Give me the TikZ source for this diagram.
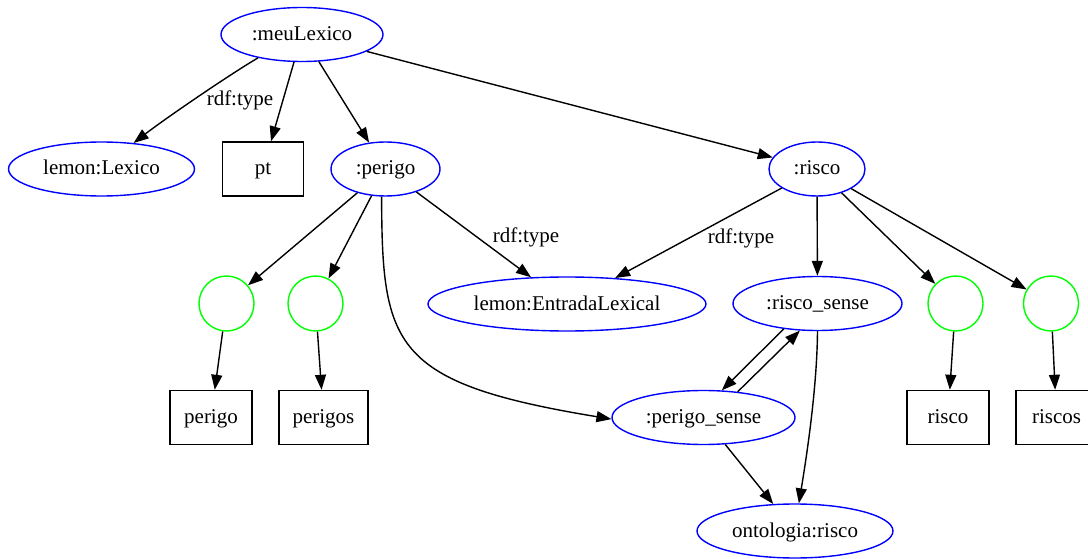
\documentclass[tikz,border=0pt]{standalone}
\usepackage{fontspec}
\setmainfont{Liberation Serif}
\usetikzlibrary{shapes.geometric,arrows.meta}
\begin{document}
\begin{tikzpicture}[x=1pt,y=-1pt,
  every node/.style={font=\fontsize{21}{25}\selectfont},
  txt/.style={text height=15.5pt,text depth=3.5pt},
  res/.style={ellipse,draw=blue,line width=1.4pt,inner sep=0pt,minimum height=54pt,txt},
  lit/.style={rectangle,draw=black,line width=1.4pt,inner sep=0pt,minimum height=54pt,txt},
  blank/.style={circle,draw=green,line width=1.4pt,inner sep=0pt,minimum size=55pt},
  edge/.style={draw,line width=1.4pt,-{Triangle[length=15pt,width=11pt]}},
  lbl/.style={inner sep=0pt}]
\useasboundingbox (0,0) rectangle (1088,559);
\clip (0,0) rectangle (1088,559);

% resources
\node[res,minimum width=162pt] (lex)  at (302,34.5)   {:meuLexico};
\node[res,minimum width=186pt] (lexc) at (101.5,169)  {lemon:Lexico};
\node[lit,minimum width=81pt]  (pt)   at (263,169)    {pt};
\node[res,minimum width=109pt] (per)  at (385.5,169)  {:perigo};
\node[res,minimum width=96pt]  (ris)  at (817,169)    {:risco};
\node[res,minimum width=278pt] (ent)  at (567,304)    {lemon:EntradaLexical};
\node[res,minimum width=169pt] (rs)   at (817.5,303.5){:risco\_sense};
\node[res,minimum width=183pt] (ps)   at (703.5,417.5){:perigo\_sense};
\node[res,minimum width=196pt] (ont)  at (795,531)    {ontologia:risco};

% blank nodes for the forms
\node[blank] (b1) at (226.5,303.5) {};
\node[blank] (b2) at (315.5,303.5) {};
\node[blank] (b3) at (955.5,303.5) {};
\node[blank] (b4) at (1051,303.5)  {};

% written representations
\node[lit,minimum width=82pt] (wp1) at (211,417.5)    {perigo};
\node[lit,minimum width=89pt] (wp2) at (323.5,417.5)  {perigos};
\node[lit,minimum width=82pt] (wr1) at (948,417.5)    {risco};
\node[lit,minimum width=81pt] (wr2) at (1056.5,417.5) {riscos};

% edge labels
\node[lbl] (l1) at (240,100) {rdf:type};
\node[lbl] (l2) at (526,237) {rdf:type};
\node[lbl] (l3) at (741,238) {rdf:type};

% edges from the lexicon
\draw[edge] (lex.208.7) .. controls (232,73) and (166,118) .. (lexc.39);
\draw[edge] (lex) -- (pt);
\draw[edge] (lex) -- (per);
\draw[edge] (lex) -- (ris);

% edges from :perigo
\draw[edge] (per) -- (b1);
\draw[edge] (per) -- (b2);
\draw[edge] (per.262.6) .. controls (382,346) and (392,383) .. (ps.181);
\draw[edge] (per) -- (ent);
\draw[edge] (b1) -- (wp1);
\draw[edge] (b2) -- (wp2);

% edges from :risco
\draw[edge] (ris) -- (ent);
\draw[edge] (ris) -- (rs);
\draw[edge] (ris) -- (b3);
\draw[edge] (ris) -- (b4);
\draw[edge] (b3) -- (wr1);
\draw[edge] (b4) -- (wr2);

% senses
\draw[edge] (rs.217.5) -- (ps.56.6);
\draw[edge] (ps.37.3) -- (rs.237.5);
\draw[edge] (rs.270) .. controls (817,390) and (806,460) .. (ont.82);
\draw[edge] (ps) -- (ont);
\end{tikzpicture}
\end{document}
